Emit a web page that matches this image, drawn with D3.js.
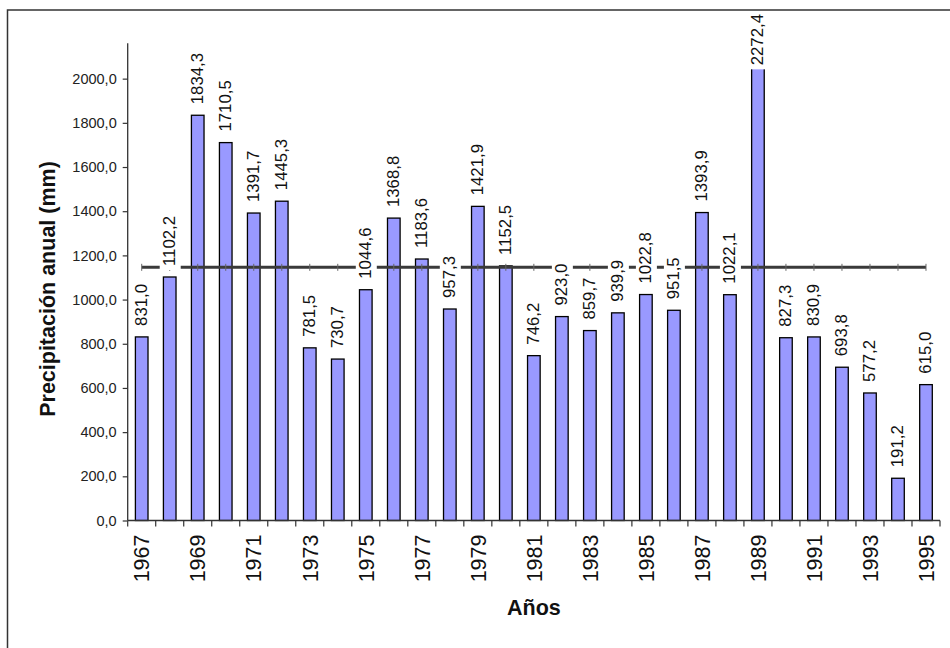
<!DOCTYPE html>
<html>
<head>
<meta charset="utf-8">
<script src="https://cdn.jsdelivr.net/npm/d3@7"></script>
<style>
  html, body { margin: 0; padding: 0; background: #fff; }
  svg { display: block; }
  text { font-family: "Liberation Sans", Arial, sans-serif; }
</style>
</head>
<body>
<svg id="chart" width="950" height="648"></svg>
<script>
// Precipitación anual por año (mm)
const anos = [1967, 1968, 1969, 1970, 1971, 1972, 1973, 1974, 1975, 1976,
              1977, 1978, 1979, 1980, 1981, 1982, 1983, 1984, 1985, 1986,
              1987, 1988, 1989, 1990, 1991, 1992, 1993, 1994, 1995];
const precipitacion = [831.0, 1102.2, 1834.3, 1710.5, 1391.7, 1445.3, 781.5, 730.7, 1044.6, 1368.8,
                       1183.6, 957.3, 1421.9, 1152.5, 746.2, 923.0, 859.7, 939.9, 1022.8, 951.5,
                       1393.9, 1022.1, 2272.4, 827.3, 830.9, 693.8, 577.2, 191.2, 615.0];
// Línea de referencia horizontal
const lineaReferencia = 1146;
// Marcas del eje vertical
const ticksY = [0, 200, 400, 600, 800, 1000, 1200, 1400, 1600, 1800, 2000];
const ejeYMax = 2160;
// Años rotulados en el eje horizontal
const etiquetasX = anos.filter((d, i) => i % 2 === 0);

(function () {
  const svg = d3.select("#chart");
  const pLeft = 127.7, pRight = 940, pTop = 43.3, pBottom = 520.5;

  const fmt = v => d3.format(".1f")(v).replace(".", ",");

  const x = d3.scaleBand().domain(anos).range([pLeft, pRight])
    .paddingInner(0.55).paddingOuter(0.275);
  const y = d3.scaleLinear().domain([0, ejeYMax]).range([pBottom, pTop]);

  // Barras
  svg.append("g").selectAll("rect").data(anos).join("rect")
    .attr("x", d => x(d))
    .attr("width", x.bandwidth())
    .attr("y", (d, i) => y(Math.min(precipitacion[i], ejeYMax)))
    .attr("height", (d, i) => y(0) - y(Math.min(precipitacion[i], ejeYMax)))
    .attr("fill", "#9999FF")
    .attr("stroke", "#000")
    .attr("stroke-width", 1.3);

  // Línea de referencia
  const cx = d => x(d) + x.bandwidth() / 2;
  const linea = d3.line().x(d => cx(d)).y(() => y(lineaReferencia));
  svg.append("path").datum(anos)
    .attr("d", linea)
    .attr("fill", "none").attr("stroke", "#3a3a3a").attr("stroke-width", 3);
  svg.append("g").selectAll("line").data(anos).join("line")
    .attr("x1", d => cx(d)).attr("x2", d => cx(d))
    .attr("y1", y(lineaReferencia) - 3.5).attr("y2", y(lineaReferencia) + 3.5)
    .attr("stroke", "#666").attr("stroke-width", 1);

  // Eje Y
  const ejeY = svg.append("g").attr("transform", `translate(${pLeft},0)`)
    .call(d3.axisLeft(y).tickValues(ticksY).tickSize(5).tickPadding(6).tickFormat(fmt));
  ejeY.select(".domain").attr("stroke", "#333").attr("stroke-width", 1.3)
    .attr("d", `M0,${pTop}V${pBottom}`);
  ejeY.selectAll(".tick line").attr("stroke", "#333").attr("stroke-width", 1.2);
  ejeY.selectAll(".tick text")
    .attr("font-size", "14.5px").attr("fill", "#222")
    .attr("font-family", "Liberation Sans, Arial, sans-serif");

  // Eje X: línea base y marcas entre categorías
  const gX = svg.append("g");
  gX.append("line").attr("x1", pLeft).attr("x2", pRight)
    .attr("y1", pBottom).attr("y2", pBottom)
    .attr("stroke", "#333").attr("stroke-width", 1.3);
  const half = (x.step() - x.bandwidth()) / 2;
  const limites = anos.map(d => x(d) - half).concat([x(anos[anos.length - 1]) + x.bandwidth() + half]);
  gX.selectAll("line.tk").data(limites).join("line").attr("class", "tk")
    .attr("x1", d => d).attr("x2", d => d)
    .attr("y1", pBottom).attr("y2", pBottom + 6)
    .attr("stroke", "#333").attr("stroke-width", 1.2);
  gX.selectAll("text").data(etiquetasX).join("text")
    .attr("transform", d => `translate(${cx(d)},${pBottom + 14}) rotate(-90)`)
    .attr("text-anchor", "end")
    .attr("dy", "0.36em")
    .attr("font-size", "21.5px")
    .attr("fill", "#111")
    .text(d => d);

  // Etiquetas de datos con fondo blanco
  const gLab = svg.append("g");
  anos.forEach((d, i) => {
    const v = precipitacion[i];
    const barTop = y(Math.min(v, ejeYMax));
    const g = gLab.append("g");
    const t = g.append("text")
      .attr("font-size", "16.8px")
      .attr("fill", "#111")
      .attr("x", 0).attr("y", 5)
      .text(fmt(v));
    const L = t.node().getComputedTextLength();
    let start = barTop - 11;
    if (start - L < 14) start = 14 + L;
    g.attr("transform", `translate(${cx(d)},${start}) rotate(-90)`);
    g.insert("rect", "text")
      .attr("x", -4).attr("width", L + 6.5)
      .attr("y", -10).attr("height", 21)
      .attr("fill", "#fff");
  });

  // Títulos de ejes
  svg.append("text")
    .attr("transform", `translate(55,289) rotate(-90)`)
    .attr("text-anchor", "middle")
    .attr("font-size", "21.5px").attr("font-weight", "bold").attr("fill", "#111")
    .text("Precipitación anual (mm)");
  svg.append("text")
    .attr("x", (pLeft + pRight) / 2).attr("y", 615)
    .attr("text-anchor", "middle")
    .attr("font-size", "21.5px").attr("font-weight", "bold").attr("fill", "#111")
    .text("Años");

  // Marco exterior
  svg.append("rect")
    .attr("x", 7.5).attr("y", 10).attr("width", 980).attr("height", 700)
    .attr("fill", "none").attr("stroke", "#333").attr("stroke-width", 1.5);
})();
</script>
</body>
</html>
